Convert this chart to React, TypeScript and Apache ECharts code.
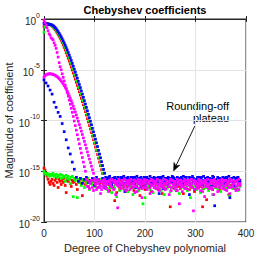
import React, { useEffect, useRef } from "react";
import * as echarts from "echarts";

// ---- Data: log10 |c_n| of Chebyshev coefficients ----
// Degrees are even (step 2) unless noted.
const xTicks = [0, 100, 200, 300, 400];
const yTickExponents = [-20, -15, -10, -5, 0];

// red main series, deg 0..116
const redDecay = [
  -0.75, -0.55, -0.48, -0.46, -0.47, -0.5, -0.55, -0.62, -0.7, -0.8,
  -0.92, -1.05, -1.2, -1.36, -1.53, -1.71, -1.9, -2.1, -2.32, -2.55,
  -2.8, -3.06, -3.33, -3.6, -3.88, -4.16, -4.45, -4.74, -5.03, -5.33,
  -5.63, -5.93, -6.24, -6.55, -6.86, -7.18, -7.5, -7.82, -8.14, -8.47,
  -8.8, -9.13, -9.47, -9.81, -10.15, -10.49, -10.84, -11.19, -11.54, -11.9,
  -12.26, -12.62, -12.98, -13.35, -13.72, -14.09, -14.46, -14.84, -15.22,
];
// red plateau, deg 118..388
const redPlateau = [
  -15.8, -16.4, -16.0, -16.7, -15.9, -16.3, -16.9, -16.1, -16.5, -15.8,
  -16.6, -17.9, -16.2, -17.1, -16.0, -16.5, -16.8, -15.9, -16.4, -16.1,
  -16.7, -16.2, -15.8, -16.5, -17.0, -16.0, -16.3, -16.6, -15.9, -16.2,
  -16.9, -16.1, -16.5, -15.8, -16.2, -16.7, -17.4, -16.0, -16.4, -15.9,
  -16.5, -16.8, -16.0, -16.2, -16.6, -15.9, -16.4, -17.0, -16.1, -16.3,
  -15.9, -16.6, -16.3, -16.0, -16.8, -16.2, -15.8, -16.5, -17.2, -16.1,
  -16.4, -15.9, -16.7, -16.2, -16.0, -16.5, -18.5, -16.1, -15.9, -16.6,
  -16.3, -16.0, -16.9, -16.2, -15.9, -16.5, -16.7, -16.0, -16.3, -17.2,
  -15.9, -16.4, -16.6, -16.1, -16.2, -16.8, -15.9, -16.5, -16.2, -16.0,
  -17.0, -16.3, -15.9, -16.2, -16.6, -16.0, -16.5, -16.2, -18.5, -16.7,
  -16.3, -16.0, -17.8, -16.2, -15.9, -16.5, -16.3, -16.0, -16.8, -16.2,
  -15.9, -16.6, -16.2, -16.0, -16.5, -16.9, -15.9, -16.2, -16.4, -16.0,
  -16.7, -16.2, -15.8, -16.5, -17.3, -16.0, -16.4, -15.9, -16.6, -16.2,
  -16.0, -16.5, -16.8, -15.9, -16.2, -16.4,
];
// green main series, deg 0..118
const greenDecay = [
  -1.3, -0.8, -0.58, -0.5, -0.5, -0.52, -0.55, -0.6, -0.66, -0.74,
  -0.84, -0.96, -1.09, -1.24, -1.4, -1.57, -1.75, -1.94, -2.14, -2.35,
  -2.57, -2.8, -3.04, -3.29, -3.55, -3.81, -4.08, -4.36, -4.64, -4.93,
  -5.22, -5.52, -5.82, -6.13, -6.44, -6.75, -7.07, -7.39, -7.71, -8.04,
  -8.37, -8.7, -9.04, -9.38, -9.72, -10.06, -10.41, -10.76, -11.11, -11.47,
  -11.83, -12.19, -12.56, -12.93, -13.3, -13.67, -14.05, -14.43, -14.81, -15.19,
];
// green plateau, deg 120..388
const greenPlateau = [
  -16.0, -16.5, -16.2, -16.8, -16.0, -16.6, -16.3, -17.1, -16.1, -16.5,
  -16.7, -16.2, -17.5, -16.0, -16.4, -16.9, -16.2, -16.6, -15.9, -16.5,
  -16.8, -16.3, -16.0, -17.0, -16.2, -16.5, -16.7, -16.0, -17.3, -16.3,
  -16.6, -15.9, -16.5, -16.2, -16.9, -16.3, -16.0, -16.7, -18.2, -16.2,
  -17.6, -16.3, -16.6, -16.0, -16.5, -16.8, -16.2, -16.4, -17.1, -16.0,
  -16.5, -16.7, -16.2, -16.3, -15.9, -16.6, -16.9, -16.2, -16.5, -17.3,
  -16.0, -16.4, -16.7, -16.2, -16.5, -17.0, -16.0, -16.6, -16.3, -16.1,
  -16.8, -16.5, -15.9, -16.3, -17.2, -16.2, -16.6, -16.3, -16.0, -16.7,
  -16.5, -16.2, -16.9, -16.3, -16.0, -17.6, -16.5, -16.2, -16.6, -16.3,
  -16.0, -16.8, -16.5, -16.2, -16.3, -17.1, -16.0, -16.5, -16.7, -16.2,
  -16.4, -16.6, -15.9, -16.9, -16.2, -16.5, -16.3, -17.3, -16.0, -16.6,
  -16.3, -16.2, -16.7, -16.5, -16.0, -17.0, -16.2, -16.4, -16.6, -16.0,
  -16.5, -16.8, -16.2, -16.3, -17.4, -16.0, -16.5, -16.7, -16.2, -16.4,
  -16.6, -16.0, -16.9, -16.2, -16.5,
];
// blue main series, deg 0..120
const blueDecay = [
  -0.42, -0.44, -0.46, -0.48, -0.5, -0.52, -0.54, -0.56, -0.6, -0.66,
  -0.74, -0.84, -0.96, -1.1, -1.25, -1.41, -1.58, -1.76, -1.95, -2.15,
  -2.36, -2.58, -2.81, -3.05, -3.3, -3.56, -3.82, -4.09, -4.37, -4.65,
  -4.94, -5.23, -5.53, -5.83, -6.14, -6.45, -6.76, -7.08, -7.4, -7.72,
  -8.05, -8.38, -8.71, -9.05, -9.39, -9.73, -10.07, -10.42, -10.77, -11.12,
  -11.48, -11.84, -12.2, -12.57, -12.94, -13.31, -13.68, -14.06, -14.44, -14.82,
  -15.2,
];
// blue plateau, deg 122..388
const bluePlateau = [
  -15.6, -16.0, -15.7, -16.2, -15.5, -15.9, -16.3, -15.7, -16.0, -15.6,
  -15.8, -16.1, -15.6, -15.9, -16.4, -15.7, -15.6, -16.0, -15.5, -16.2,
  -15.7, -15.9, -15.6, -16.3, -15.8, -15.6, -16.1, -15.7, -16.0, -15.6,
  -16.6, -15.5, -15.9, -15.7, -16.2, -15.6, -16.0, -15.8, -15.6, -16.3,
  -15.7, -15.6, -16.0, -15.8, -15.5, -16.2, -15.7, -16.1, -15.6, -15.9,
  -15.7, -16.0, -15.6, -17.2, -15.8, -15.6, -16.1, -15.5, -15.9, -15.7,
  -16.0, -16.3, -15.6, -15.8, -15.7, -16.1, -15.5, -16.0, -15.7, -15.9,
  -16.5, -15.6, -15.8, -16.0, -15.7, -15.6, -16.2, -15.5, -16.1, -15.8,
  -15.6, -15.9, -16.0, -15.6, -15.8, -16.2, -15.5, -15.7, -16.8, -15.9,
  -15.8, -15.6, -16.1, -15.9, -15.7, -15.6, -16.3, -15.5, -16.0, -15.7,
  -15.9, -15.6, -16.1, -15.7, -15.9, -15.8, -15.5, -16.4, -18.4, -15.8,
  -16.1, -15.6, -15.7, -16.0, -15.8, -16.2, -15.6, -15.7, -16.1, -15.8,
  -15.6, -16.0, -15.5, -17.6, -15.9, -15.7, -16.1, -15.6, -16.0, -15.7,
  -15.8, -15.6, -16.1, -15.9,
];
// magenta series starting near 1e-6, deg 0..98
const magentaHumpDecay = [
  -5.75, -5.6, -5.5, -5.45, -5.42, -5.4, -5.4, -5.41, -5.43, -5.46,
  -5.5, -5.55, -5.61, -5.68, -5.77, -5.87, -5.98, -6.1, -6.24, -6.39,
  -6.55, -6.73, -6.92, -7.12, -7.34, -7.57, -7.81, -8.06, -8.32, -8.59,
  -8.87, -9.16, -9.46, -9.77, -10.08, -10.4, -10.72, -11.05, -11.38, -11.72,
  -12.06, -12.4, -12.75, -13.1, -13.45, -13.8, -14.15, -14.5, -14.85, -15.2,
];
// deg 100..388
const magentaHumpPlateau = [
  -15.7, -16.2, -15.9, -16.6, -15.8, -16.4, -16.0, -16.8, -15.9, -16.2,
  -15.8, -16.5, -16.1, -16.0, -16.9, -15.9, -16.3, -15.8, -16.6, -16.1,
  -15.9, -17.3, -16.0, -16.4, -15.8, -16.2, -16.7, -15.9, -16.0, -16.5,
  -15.8, -16.2, -16.8, -15.9, -16.4, -16.0, -15.8, -16.6, -16.2, -15.9,
  -16.5, -16.0, -17.0, -15.8, -16.2, -15.9, -16.4, -16.7, -16.0, -15.8,
  -16.2, -16.5, -15.9, -16.2, -16.0, -17.2, -15.8, -16.4, -15.9, -16.6,
  -16.0, -16.2, -15.8, -16.5, -16.8, -15.9, -16.2, -16.0, -16.4, -15.8,
  -16.7, -15.9, -16.2, -16.5, -16.0, -15.8, -16.9, -15.9, -16.4, -16.1,
  -16.0, -16.6, -15.8, -16.2, -18.2, -15.9, -16.4, -16.0, -16.5, -15.8,
  -16.2, -16.7, -15.9, -16.0, -16.4, -16.2, -15.8, -16.6, -15.9, -16.8,
  -16.0, -16.2, -16.5, -15.8, -16.4, -15.9, -16.2, -17.0, -16.0, -15.9,
  -16.5, -16.2, -15.8, -16.4, -16.7, -16.0, -15.9, -16.2, -17.3, -15.8,
  -16.5, -16.0, -16.2, -15.9, -16.6, -16.4, -15.8, -16.2, -16.0, -16.8,
  -15.9, -16.4, -16.0, -16.2, -15.8, -16.6, -15.9, -16.5, -16.2, -16.0,
  -16.9, -15.9, -16.2, -15.8, -16.4,
];
// magenta series starting near 1, deg 0..82
const magentaTopDecay = [
  -0.1, -0.35, -0.6, -0.85, -1.15, -1.45, -1.6, -1.85, -1.95, -2.05,
  -2.35, -2.6, -2.9, -3.3, -3.75, -4.3, -4.7, -5.0, -5.4, -5.75,
  -6.1, -6.5, -6.85, -7.25, -7.6, -8.0, -8.4, -8.8, -9.2, -9.6,
  -10.05, -10.5, -10.95, -11.4, -11.85, -12.3, -12.75, -13.2, -13.65, -14.1,
  -14.55, -15.0,
];
// deg 84..388
const magentaTopPlateau = [
  -15.8, -16.5, -16.0, -16.7, -16.2, -15.9, -16.6, -16.9, -16.0, -16.3,
  -16.8, -15.9, -16.2, -16.6, -17.2, -16.0, -16.5, -16.2, -15.9, -16.7,
  -16.3, -16.0, -17.0, -16.2, -16.5, -15.9, -16.6, -16.8, -16.0, -16.3,
  -16.2, -18.6, -16.0, -16.5, -16.7, -16.2, -15.9, -16.6, -16.3, -16.9,
  -16.0, -16.5, -16.2, -16.8, -15.9, -16.3, -16.6, -16.2, -17.1, -16.0,
  -16.5, -16.2, -16.7, -16.0, -16.3, -17.6, -16.2, -16.6, -15.9, -16.5,
  -16.8, -16.2, -16.0, -16.6, -16.3, -17.0, -16.0, -16.2, -16.5, -16.7,
  -15.9, -16.3, -16.9, -16.2, -16.5, -16.0, -16.6, -16.2, -16.8, -16.3,
  -16.0, -16.5, -17.3, -16.2, -16.6, -15.9, -16.3, -16.7, -16.2, -16.5,
  -16.9, -16.0, -16.3, -16.6, -16.2, -17.0, -16.5, -16.0, -16.7, -16.3,
  -16.2, -16.8, -15.9, -16.5, -16.2, -16.6, -18.9, -16.0, -16.3, -16.5,
  -16.7, -16.2, -16.0, -16.9, -16.3, -16.6, -16.2, -17.5, -16.0, -16.5,
  -16.3, -16.7, -16.2, -15.9, -16.6, -16.8, -16.3, -16.0, -16.5, -16.2,
  -17.0, -16.3, -16.6, -16.0, -16.2, -16.7, -16.5, -15.9, -16.3, -16.9,
  -16.2, -16.6, -17.2, -16.0, -16.5, -16.3, -16.2, -16.7, -16.0, -16.5,
  -16.3, -16.8, -16.2,
];
// blue series starting near 1e-6, step 4: deg 0..60
const blueLowDecay = [
  -6.0, -6.3, -6.6, -7.0, -7.4, -8.2, -8.7, -9.2, -9.6, -10.3,
  -11.1, -11.9, -12.7, -13.3, -14.1, -14.8,
];
// step 4: deg 64..388
const blueLowPlateau = [
  -15.6, -16.0, -15.7, -16.2, -15.8, -15.6, -16.1, -15.9, -15.7, -16.4,
  -15.6, -15.8, -16.0, -15.7, -16.6, -15.9, -15.6, -15.8, -16.1, -15.7,
  -15.9, -16.3, -15.6, -15.8, -17.0, -15.7, -16.0, -15.9, -15.6, -16.2,
  -15.8, -15.7, -16.5, -15.9, -15.6, -16.0, -15.8, -16.3, -15.7, -15.9,
  -16.1, -15.6, -15.8, -16.7, -15.9, -15.7, -16.0, -15.8, -15.6, -16.2,
  -15.9, -15.7, -16.4, -15.8, -15.6, -16.0, -17.3, -15.7, -15.9, -16.1,
  -15.8, -15.6, -16.3, -15.9, -15.7, -16.0, -15.8, -16.5, -15.6, -15.9,
  -16.1, -15.7, -15.8, -16.2, -15.6, -15.9, -16.0, -15.7, -16.4, -15.8,
  -15.6, -16.1,
];
// red series at rounding level from the start, deg 0..116
const redFloor = [
  -14.7, -14.9, -15.2, -15.5, -15.8, -16.1, -16.3, -16.0, -15.8, -16.2,
  -16.4, -15.9, -15.7, -16.1, -16.6, -15.8, -16.0, -16.3, -15.9, -16.1,
  -15.7, -16.4, -17.1, -15.9, -16.0, -15.8, -16.2, -16.5, -15.9, -16.1,
  -16.0, -15.7, -16.3, -16.8, -15.9, -16.1, -15.8, -16.2, -17.4, -16.0,
  -15.9, -16.3, -16.1, -15.8, -16.5, -16.0, -15.9, -16.2, -16.0, -15.8,
  -16.4, -16.1, -15.9, -16.6, -16.0, -15.8, -16.2, -16.1, -15.9,
];
// green series at rounding level from the start, deg 0..116
const greenFloor = [
  -15.0, -15.2, -15.3, -15.2, -15.4, -15.3, -15.5, -15.3, -15.4, -15.2,
  -15.5, -15.4, -15.3, -15.6, -15.4, -15.5, -15.3, -15.7, -15.4, -15.6,
  -15.5, -16.0, -15.4, -15.7, -15.5, -15.8, -16.2, -15.6, -15.5, -17.5,
  -15.7, -15.9, -15.6, -17.6, -15.8, -16.1, -15.7, -16.4, -15.9, -15.8,
  -16.6, -15.9, -16.2, -15.7, -16.0, -16.8, -15.9, -16.1, -16.3, -15.8,
  -16.0, -16.5, -15.9, -16.2, -16.1, -15.8, -16.4, -16.0, -16.2,
];

// ---- styling ----
const FONT = '"Liberation Sans", Arial, Helvetica, sans-serif';
const AX = "#262626";
const GRID = "#e3e3e3";
const RED = "#ff0000";
const GREEN = "#00ff00";
const BLUE = "#0000ff";
const MAGENTA = "#ff00ff";

function points(startDeg: number, step: number, ...parts: number[][]) {
  const vals: number[] = ([] as number[]).concat(...parts);
  return vals.map((v, i) => [startDeg + step * i, v]);
}

export default function App() {
  const ref = useRef<HTMLDivElement | null>(null);

  useEffect(() => {
    if (!ref.current) return;
    const chart = echarts.init(ref.current, undefined, { renderer: "svg" });

    const mk = (data: number[][], color: string) => ({
      type: "scatter",
      data,
      symbol: "rect",
      symbolSize: 2.7,
      itemStyle: { color, opacity: 1 },
      silent: true,
      xAxisIndex: 0,
      yAxisIndex: 0,
    });

    // arrow geometry (annotation, pixel coordinates)
    const S = [194.8, 126];
    const T = [173.5, 171];
    const dx = T[0] - S[0];
    const dy = T[1] - S[1];
    const len = Math.hypot(dx, dy);
    const ux = dx / len;
    const uy = dy / len;
    const px = -uy;
    const py = ux;
    const L = 8;
    const W = 3.3;
    const bx = T[0] - L * ux;
    const by = T[1] - L * uy;
    const nx = T[0] - (L - 2.2) * ux;
    const ny = T[1] - (L - 2.2) * uy;

    const yAxisBase = { type: "value", min: -20, max: 0, interval: 5 };
    const xAxisBase = { type: "value", min: 0, max: 400, interval: 100 };

    chart.setOption({
      animation: false,
      backgroundColor: "#ffffff",
      textStyle: { fontFamily: FONT },
      grid: {
        left: 44,
        right: 26,
        top: 19,
        bottom: 33,
        containLabel: false,
        outerBoundsMode: "none",
        show: true,
        borderColor: AX,
        borderWidth: 1,
      },
      xAxis: [
        {
          ...xAxisBase,
          position: "bottom",
          name: "Degree of Chebyshev polynomial",
          nameLocation: "middle",
          nameGap: 20,
          nameMoveOverlap: false,
          nameTextStyle: { fontSize: 11, color: AX, fontFamily: FONT },
          axisLine: { show: true, lineStyle: { color: AX, width: 1 } },
          axisTick: { show: true, inside: true, length: 3, lineStyle: { color: AX } },
          axisLabel: {
            fontSize: 10,
            color: AX,
            margin: 6,
            fontFamily: FONT,
            formatter: (v: number) => (xTicks.includes(v) ? String(v) : ""),
          },
          splitLine: { show: true, lineStyle: { color: GRID, width: 1 } },
        },
        {
          ...xAxisBase,
          position: "top",
          axisLine: { show: true, lineStyle: { color: AX } },
          axisTick: { show: true, inside: true, length: 3, lineStyle: { color: AX } },
          axisLabel: { show: false },
          splitLine: { show: false },
        },
      ],
      yAxis: [
        {
          ...yAxisBase,
          position: "left",
          name: "Magnitude of coefficient",
          nameLocation: "middle",
          nameGap: 30,
          nameMoveOverlap: false,
          nameTextStyle: { fontSize: 11, color: AX, fontFamily: FONT },
          axisLine: { show: true, lineStyle: { color: AX, width: 1 } },
          axisTick: { show: true, inside: true, length: 3, lineStyle: { color: AX } },
          axisLabel: {
            margin: 4,
            color: AX,
            fontFamily: FONT,
            formatter: (v: number) =>
              yTickExponents.includes(v) ? `{b|10}{s|${v}}` : "",
            rich: {
              b: { fontSize: 10, color: AX, fontFamily: FONT, lineHeight: 15, verticalAlign: "bottom" },
              s: { fontSize: 7, color: AX, fontFamily: FONT, lineHeight: 15, verticalAlign: "top" },
            },
          },
          splitLine: { show: true, lineStyle: { color: GRID, width: 1 } },
        },
        {
          ...yAxisBase,
          position: "right",
          axisLine: { show: true, lineStyle: { color: AX } },
          axisTick: { show: true, inside: true, length: 3, lineStyle: { color: AX } },
          axisLabel: { show: false },
          splitLine: { show: false },
        },
      ],
      series: [
        mk(points(0, 2, redFloor), RED),
        mk(points(0, 2, greenFloor), GREEN),
        mk(points(0, 2, redDecay, redPlateau), RED),
        mk(points(0, 2, greenDecay, greenPlateau), GREEN),
        mk(points(0, 2, blueDecay, bluePlateau), BLUE),
        mk(points(0, 4, blueLowDecay, blueLowPlateau), BLUE),
        mk(points(0, 2, magentaHumpDecay, magentaHumpPlateau), MAGENTA),
        mk(points(0, 2, magentaTopDecay, magentaTopPlateau), MAGENTA),
      ],
      graphic: [
        {
          type: "text",
          x: 145,
          y: 10,
          style: {
            text: "Chebyshev coefficients",
            font: `bold 11px ${FONT}`,
            fill: "#000000",
            align: "center",
            verticalAlign: "middle",
            textAlign: "center",
            textVerticalAlign: "middle",
          },
        },
        {
          type: "text",
          x: 230,
          y: 112,
          style: {
            text: "Rounding-off\nplateau",
            font: `11px ${FONT}`,
            fill: "#000000",
            lineHeight: 12.5,
            align: "right",
            verticalAlign: "middle",
            textAlign: "right",
            textVerticalAlign: "middle",
            backgroundColor: "#ffffff",
            padding: [2, 1, 2, 3],
          },
        },
        {
          type: "line",
          shape: { x1: S[0], y1: S[1], x2: nx, y2: ny },
          style: { stroke: "#000000", lineWidth: 0.9 },
        },
        {
          type: "polygon",
          shape: {
            points: [
              [T[0], T[1]],
              [bx + W * px, by + W * py],
              [nx, ny],
              [bx - W * px, by - W * py],
            ],
          },
          style: { fill: "#000000", stroke: "#000000", lineWidth: 0.5 },
        },
      ],
    });

    return () => {
      chart.dispose();
    };
  }, []);

  return (
    <div
      ref={ref}
      style={{ position: "fixed", left: 0, top: 0, width: 272, height: 255, background: "#fff" }}
    />
  );
}
